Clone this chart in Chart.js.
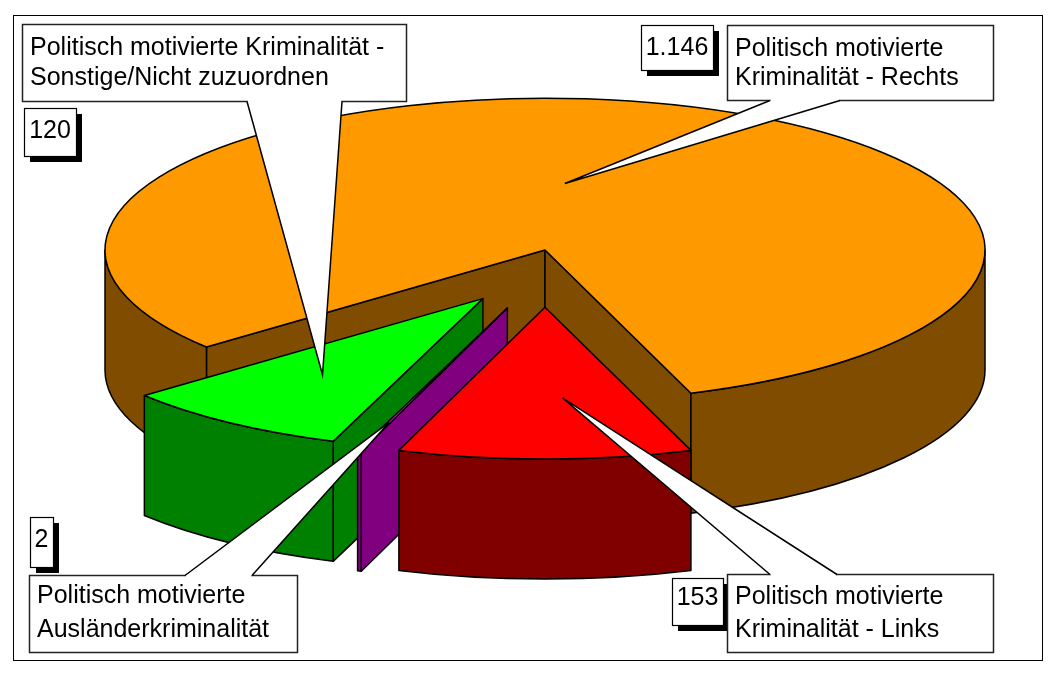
<!DOCTYPE html>
<html lang="de">
<head>
<meta charset="utf-8">
<title>Politisch motivierte Kriminalität</title>
<script src="https://cdn.jsdelivr.net/npm/chart.js@4.4.1/dist/chart.umd.min.js"></script>
<style>
  html, body { margin: 0; padding: 0; background: #fff; }
  #wrap { position: relative; width: 1061px; height: 678px; }
</style>
</head>
<body>
<div id="wrap"><canvas id="pie-chart"></canvas></div>
<script>
// data
const categories = [
  ['Politisch motivierte', 'Kriminalität - Rechts'],
  ['Politisch motivierte', 'Kriminalität - Links'],
  ['Politisch motivierte', 'Ausländerkriminalität'],
  ['Politisch motivierte Kriminalität -', 'Sonstige/Nicht zuzuordnen']
];
const cases = [1146, 153, 2, 120];

// styles
const topColors = ['#FF9900', '#FF0000', '#FF00FF', '#00FF00'];
const sideColors = ['#804C00', '#800000', '#800080', '#008000'];
const explode = [0, 104, 112, 108];

// callout boxes: value box [x, y, w, h, baseline], label box [x, y, w, h, baseline, lineGap],
// pointer base on the label box edge, tip as [fraction of slice angle, fraction of radius]
const callouts = [
  { value: [641, 25, 72, 45, 55], label: [727, 25, 266, 75, 56, 29], edge: 'bottom', base: [770, 840], tip: [0.467, 0.44] },
  { value: [672, 578, 51, 47, 605], label: [727, 574, 266, 78, 604, 33], edge: 'top', base: [770, 837], tip: [0.40, 0.60] },
  { value: [30, 517, 23, 50, 547], label: [29, 575, 268, 77, 603, 34], edge: 'top', base: [185, 252], tip: [0.5, 0.8] },
  { value: [24, 108, 52, 48, 138], label: [22, 24, 384, 77, 55, 30], edge: 'bottom', base: [247, 342], tip: [0.53, 0.62] }
];

const FONT = '25px "Liberation Sans", Arial, sans-serif';
const fmt = v => String(v).replace(/\B(?=(\d{3})+(?!\d))/g, '.');

function drawSlice(ctx, sl, top, side, K, H) {
  const P = a => [sl.cx + sl.R * Math.cos(a), sl.cy + sl.R * K * Math.sin(a)];
  const c = [sl.cx, sl.cy];
  const down = q => [q[0], q[1] + H];
  const poly = (pts, fill) => {
    ctx.beginPath();
    pts.forEach((q, j) => j ? ctx.lineTo(q[0], q[1]) : ctx.moveTo(q[0], q[1]));
    ctx.closePath();
    ctx.fillStyle = fill;
    ctx.fill();
    ctx.stroke();
  };
  // cut faces
  if (Math.cos(sl.s) < 0) { const q = P(sl.s); poly([c, q, down(q), down(c)], side); }
  if (Math.cos(sl.e) > 0) { const q = P(sl.e); poly([c, q, down(q), down(c)], side); }
  // outer wall, only the front half is seen
  for (let k = -1; k <= 2; k++) {
    const a1 = Math.max(sl.s, k * 2 * Math.PI);
    const a2 = Math.min(sl.e, k * 2 * Math.PI + Math.PI);
    if (a2 - a1 > 1e-4) {
      ctx.beginPath();
      ctx.ellipse(sl.cx, sl.cy, sl.R, sl.R * K, 0, a1, a2);
      ctx.ellipse(sl.cx, sl.cy + H, sl.R, sl.R * K, 0, a2, a1, true);
      ctx.closePath();
      ctx.fillStyle = side;
      ctx.fill();
      ctx.stroke();
    }
  }
  // top face
  ctx.beginPath();
  ctx.moveTo(c[0], c[1]);
  ctx.ellipse(sl.cx, sl.cy, sl.R, sl.R * K, 0, sl.s, sl.e);
  ctx.closePath();
  ctx.fillStyle = top;
  ctx.fill();
  ctx.stroke();
}

const pie3d = {
  id: 'pie3d',
  beforeDatasetsDraw(chart, args, opts) {
    const ctx = chart.ctx;
    const K = opts.squash, H = opts.depth;
    const meta = chart.getDatasetMeta(0);
    const slices = meta.data.map((arc, i) => {
      const p = arc.getProps(['x', 'y', 'startAngle', 'endAngle', 'outerRadius'], true);
      const mid = (p.startAngle + p.endAngle) / 2;
      const d = opts.explode[i] || 0;
      return { i, s: p.startAngle, e: p.endAngle, R: p.outerRadius, mid,
        cx: p.x + d * Math.cos(mid), cy: p.y + d * Math.sin(mid) * opts.explodeSquash };
    });
    chart.$slices = slices;
    const order = slices.slice().sort((a, b) => Math.sin(a.mid) - Math.sin(b.mid));
    ctx.save();
    ctx.lineWidth = 1.5;
    ctx.lineJoin = 'round';
    ctx.strokeStyle = '#000';
    order.forEach(sl => drawSlice(ctx, sl, topColors[sl.i], opts.sideColors[sl.i], K, H));
    ctx.restore();
    return false;
  },
  afterDraw(chart, args, opts) {
    const ctx = chart.ctx;
    const K = opts.squash;
    ctx.save();
    ctx.font = FONT;
    ctx.textBaseline = 'alphabetic';
    callouts.forEach((co, i) => {
      const sl = chart.$slices[i];
      const [vx, vy, vw, vh, vb] = co.value;
      const [lx, ly, lw, lh, lb, lg] = co.label;
      // value box with shadow
      ctx.fillStyle = '#000';
      ctx.fillRect(vx + 6, vy + 6, vw, vh);
      ctx.fillStyle = '#fff';
      ctx.fillRect(vx, vy, vw, vh);
      ctx.lineWidth = 1.2;
      ctx.strokeStyle = '#000';
      ctx.strokeRect(vx + 0.5, vy + 0.5, vw, vh);
      ctx.fillStyle = '#000';
      ctx.textAlign = 'center';
      ctx.fillText(fmt(cases[i]), vx + vw / 2, vb);
      // label box
      ctx.fillStyle = '#fff';
      ctx.fillRect(lx, ly, lw, lh);
      ctx.lineWidth = 1.5;
      ctx.strokeStyle = '#222';
      ctx.strokeRect(lx + 0.5, ly + 0.5, lw, lh);
      // pointer
      const a = sl.s + (sl.e - sl.s) * co.tip[0];
      const r = sl.R * co.tip[1];
      const tx = sl.cx + r * Math.cos(a), ty = sl.cy + r * K * Math.sin(a);
      const ey = co.edge === 'bottom' ? ly + lh + 0.5 : ly + 0.5;
      const [b1, b2] = co.base;
      ctx.beginPath();
      ctx.moveTo(b1, ey);
      ctx.lineTo(tx, ty);
      ctx.lineTo(b2, ey);
      ctx.closePath();
      ctx.fillStyle = '#fff';
      ctx.fill();
      ctx.fillRect(b1 + 1, ey - 2, b2 - b1 - 2, 4);
      ctx.beginPath();
      ctx.moveTo(b1, ey);
      ctx.lineTo(tx, ty);
      ctx.lineTo(b2, ey);
      ctx.strokeStyle = '#000';
      ctx.lineWidth = 1.5;
      ctx.stroke();
      // label text
      ctx.fillStyle = '#000';
      ctx.textAlign = 'left';
      categories[i].forEach((line, j) => ctx.fillText(line, lx + 8, lb + j * lg));
    });
    // outer frame
    ctx.lineWidth = 1;
    ctx.strokeStyle = '#000';
    ctx.strokeRect(13.5, 15.5, 1029, 645);
    ctx.restore();
  }
};

const config = {
  type: 'pie',
  data: {
    labels: categories,
    datasets: [{
      data: cases,
      backgroundColor: topColors,
      borderWidth: 0
    }]
  },
  options: {
    responsive: true,
    maintainAspectRatio: false,
    animation: false,
    events: [],
    rotation: 230.3,
    radius: 440,
    layout: { padding: { left: 29, right: 0, top: 0, bottom: 178 } },
    plugins: {
      legend: { display: false },
      tooltip: { enabled: false },
      pie3d: { squash: 0.345, explodeSquash: 0.55, depth: 120, explode: explode, sideColors: sideColors }
    }
  },
  plugins: [pie3d]
};

const ctx = document.getElementById('pie-chart').getContext('2d');
window.myPie = new Chart(ctx, config);
</script>
</body>
</html>
